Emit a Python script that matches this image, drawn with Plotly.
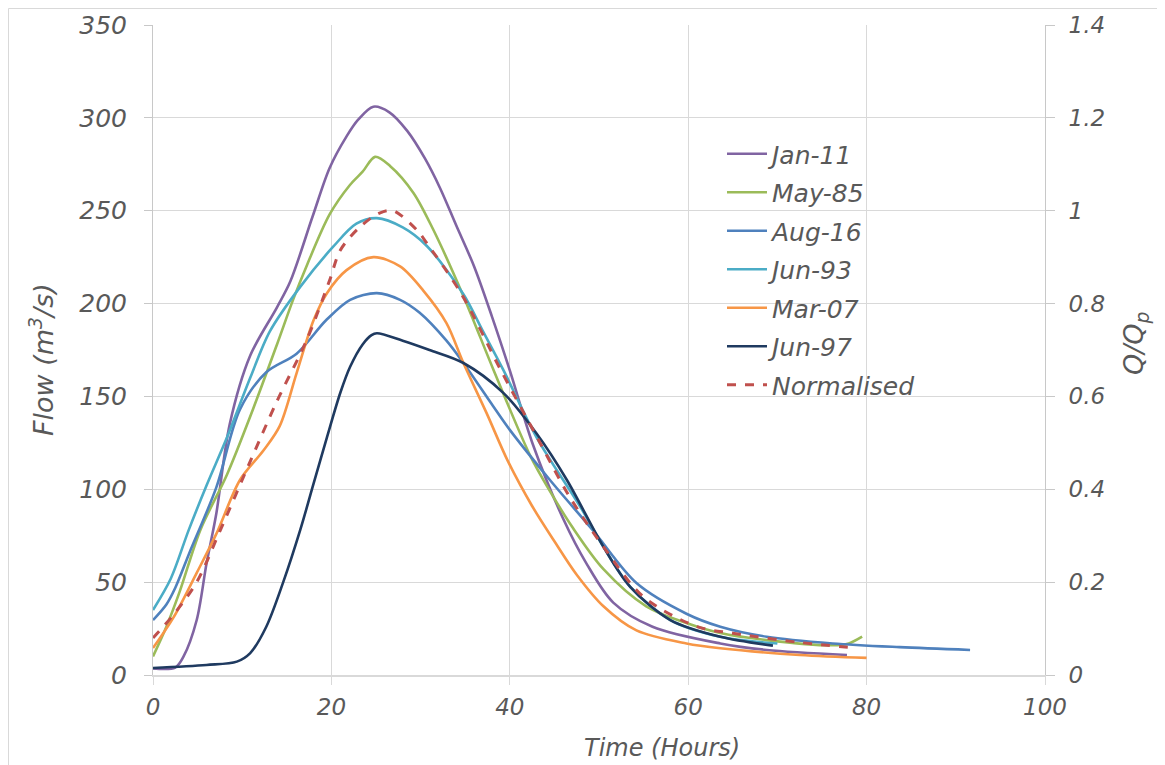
import plotly.graph_objects as go

# ---------------- data ----------------
jan11_t = [0, 2.5, 3.4, 4.9, 6.0, 7.1, 8.6, 10.9, 13.9, 15.4, 17.9, 19.8, 21.7, 23.0, 24.7, 26.5, 28.5, 30.5, 32.2, 34.0, 36.0, 38.0, 40.0, 42.6, 46.0, 48.6, 51.6, 56.0, 63.6, 68.8, 77.8]
jan11_q = [3.5, 4, 9.7, 29.6, 60, 87, 135, 172, 198, 212, 247, 273, 290, 299, 306, 303, 293, 278, 262, 242, 220, 193, 164, 124, 84, 60, 39, 26, 17, 13.5, 10.8]

may85_t = [0, 1.5, 3, 5.3, 8.3, 11.2, 13.9, 15.7, 17.2, 19.8, 22.1, 23.5, 24.9, 26.6, 29.2, 31.4, 34.8, 38.2, 42.3, 44.5, 47.1, 50.5, 55.3, 59.8, 63.6, 68.8, 76.2, 78, 79.5]
may85_q = [10, 26, 45, 78, 108, 143, 178, 202, 220, 248, 264, 271, 279, 274, 259.6, 240, 204, 164, 118, 99, 79, 57, 37, 28, 22.6, 18.8, 16, 17, 20.6]

aug16_t = [0, 1.5, 2.5, 4.1, 7.1, 9.75, 12.7, 16.1, 19.4, 22.1, 25.1, 27.7, 29.9, 32.9, 34.8, 38.1, 40.0, 44.5, 49.3, 54.2, 59.8, 63.6, 68.8, 76.2, 83.7, 91.6]
aug16_q = [29.6, 38, 47, 66, 101, 143, 163, 173, 191, 202, 205.6, 202, 195, 180, 168, 145, 132, 105, 78, 49.5, 33, 26, 20.6, 17, 15, 13.5]

jun93_t = [0, 2, 4, 6, 8.3, 10.9, 13.1, 16.5, 20.2, 22.8, 25.1, 28, 30.7, 34.8, 37, 39.3, 43, 47.9, 50.5, 53.5, 58, 63.6, 70]
jun93_q = [35, 52, 78, 102, 128, 160, 185, 209, 230.6, 243, 246, 241, 231, 205, 185, 164, 128, 90.6, 69, 47.5, 29.6, 20.6, 17]

mar07_t = [0, 2.3, 4.9, 7.1, 9.75, 12.4, 14.2, 16.1, 18, 19.5, 21.7, 24.7, 27.7, 30.3, 32.9, 34.8, 37.4, 39.8, 42.5, 45.0, 47.5, 50.5, 54.2, 59.8, 63.6, 72.5, 80]
mar07_q = [14.5, 31, 55, 76, 105, 121, 134, 162.6, 191, 205.6, 218, 225, 220, 207, 189.5, 168, 141, 115, 91, 72, 54, 37, 24, 17, 14.4, 10.8, 9.2]

jun97_t = [0, 6, 9.4, 10.9, 12.7, 14.6, 16.5, 18, 19.5, 21, 22.1, 23.5, 24.5, 25.1, 28, 31, 34.8, 39.3, 43, 46.4, 50.5, 53.5, 58, 63.6, 69.5]
jun97_q = [3.8, 5.4, 7.2, 11.8, 26, 50, 78, 103, 128, 152, 166, 178, 183, 184, 180, 175, 168, 151.8, 130, 105, 69, 47.5, 29.6, 20.6, 15.8]

norm_t = [0, 2.3, 4.9, 7.5, 10.9, 13.9, 17.2, 19.8, 21, 23.2, 25.4, 26.9, 29.6, 30.7, 34.6, 38.9, 43, 46.7, 50.5, 55, 61, 65, 72.5, 78.9]
norm_q = [0.08, 0.13, 0.2, 0.31, 0.46, 0.59, 0.72, 0.85, 0.915, 0.965, 0.995, 1.0, 0.958, 0.93, 0.82, 0.66, 0.514, 0.384, 0.276, 0.168, 0.104, 0.09, 0.07, 0.058]

series = [
    ("Jan-11", jan11_t, jan11_q, "#8064A2"),
    ("May-85", may85_t, may85_q, "#9BBB59"),
    ("Aug-16", aug16_t, aug16_q, "#4F81BD"),
    ("Jun-93", jun93_t, jun93_q, "#4BACC6"),
    ("Mar-07", mar07_t, mar07_q, "#F79646"),
    ("Jun-97", jun97_t, jun97_q, "#1F3A60"),
]

x_ticks = [0, 20, 40, 60, 80, 100]
y_ticks = [0, 50, 100, 150, 200, 250, 300, 350]
y2_ticks = [0, 0.2, 0.4, 0.6, 0.8, 1.0, 1.2, 1.4]
y2_labels = ["0", "0.2", "0.4", "0.6", "0.8", "1", "1.2", "1.4"]

# ---------------- figure ----------------
OFF = 8                      # page body margin of the html page
W, H = 1165 - OFF, 765 - OFF
L, T = 153 - OFF, 25 - OFF
R = W - (1045 - OFF)
B = H - (675 - OFF)
PW, PH = W - L - R, H - T - B

def px(xpage):
    return (xpage - OFF - L) / PW

def py(ypage):
    return (H - B - (ypage - OFF)) / PH

GRAY = "#595959"
GRID = "#D9D9D9"
AX = "#C8C8C8"
WIDE = "DejaVu Sans, Verdana, sans-serif"

fig = go.Figure()
for i, (name, t, q, col) in enumerate(series):
    fig.add_trace(go.Scatter(
        x=t, y=q, name=name, mode="lines", legendgroup=f"g{i}",
        line=dict(color=col, width=2.6, shape="spline", smoothing=0.9),
    ))
fig.add_trace(go.Scatter(
    x=norm_t, y=norm_q, name="Normalised", mode="lines", yaxis="y2", legendgroup="g9",
    line=dict(color="#C0504D", width=3, dash="dash", shape="spline", smoothing=0.9),
))
# invisible helper trace for the horizontal grid axis
fig.add_trace(go.Scatter(x=[0], y=[0], yaxis="y3", mode="markers",
                         marker=dict(opacity=0), showlegend=False, hoverinfo="skip"))

fig.update_layout(
    width=W, height=H,
    margin=dict(l=L, r=R, t=T, b=B, autoexpand=False),
    paper_bgcolor="white", plot_bgcolor="white",
    showlegend=True,
    legend=dict(
        x=px(722), y=py(131), xanchor="left", yanchor="top",
        font=dict(family=WIDE, size=25, color=GRAY, style="italic"),
        tracegroupgap=3, itemwidth=40, bgcolor="rgba(0,0,0,0)",
    ),
    xaxis=dict(
        range=[0, 100], tickvals=x_ticks, showgrid=True, gridcolor=GRID, gridwidth=1,
        showline=True, linecolor=GRID, linewidth=1.5, zeroline=False,
        ticks="outside", ticklen=8, tickcolor=GRID, automargin=False,
        tickfont=dict(family=WIDE, size=23, color=GRAY, style="italic"),
        ticklabelstandoff=3,
    ),
    yaxis=dict(
        range=[0, 350], tickvals=y_ticks, showgrid=False, zeroline=False,
        showline=True, linecolor=AX, linewidth=1, automargin=False,
        ticks="outside", ticklen=8, tickcolor=AX,
        tickfont=dict(family=WIDE, size=25, color=GRAY, style="italic"),
        ticklabelstandoff=12,
    ),
    yaxis2=dict(
        range=[0, 1.4], tickvals=y2_ticks, ticktext=y2_labels, overlaying="y", side="right",
        showgrid=False, zeroline=False, automargin=False,
        showline=True, linecolor=AX, linewidth=1,
        ticks="outside", ticklen=9, tickcolor=AX,
        tickfont=dict(family=WIDE, size=23, color=GRAY, style="italic"),
        ticklabelstandoff=9,
    ),
    yaxis3=dict(
        range=[0, 350], tickvals=y_ticks[:-1], overlaying="y", showgrid=True,
        gridcolor=GRID, gridwidth=1, showticklabels=False, zeroline=False,
        showline=False, ticks="", automargin=False,
    ),
    annotations=[
        dict(text="Flow (m<sup>3</sup>/s)", xref="paper", yref="paper",
             x=px(42), y=py(360), xanchor="center", yanchor="middle",
             textangle=-90, showarrow=False,
             font=dict(family=WIDE, size=27, color=GRAY, style="italic")),
        dict(text="Q/Q<sub>p</sub>", xref="paper", yref="paper",
             x=px(1135), y=py(343), xanchor="center", yanchor="middle",
             textangle=-90, showarrow=False,
             font=dict(family=WIDE, size=27, color=GRAY, style="italic")),
        dict(text="Time (Hours)", xref="paper", yref="paper",
             x=px(662), y=py(748), xanchor="center", yanchor="middle",
             showarrow=False,
             font=dict(family=WIDE, size=24, color=GRAY, style="italic")),
    ],
    shapes=[
        dict(type="rect", xref="paper", yref="paper",
             x0=px(OFF + 0.5), y0=py(780), x1=px(1180), y1=py(OFF + 0.5),
             line=dict(color=GRID, width=1), fillcolor="rgba(0,0,0,0)", layer="below"),
    ],
)

fig.write_html("out.html")
